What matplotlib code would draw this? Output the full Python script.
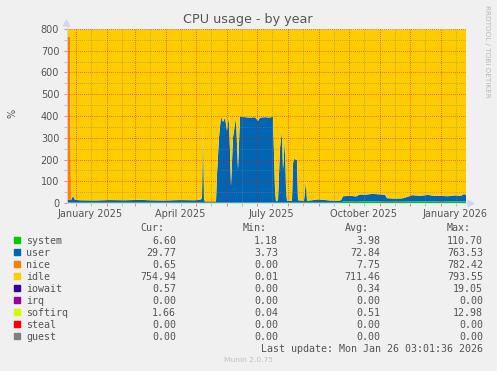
import matplotlib
matplotlib.use('Agg')
import matplotlib.pyplot as plt
import matplotlib.dates as mdates
import pandas as pd
from matplotlib.patches import Rectangle, Polygon
from matplotlib.lines import Line2D

W, H = 497, 371

# days since 2025-01-01
days = [-9, -7, -6, -5, -3, -1, 4, 19, 34, 49, 64,
        74, 89, 104, 119, 124, 126, 127, 128, 129, 134, 140,
        141, 143, 145, 147, 149, 151, 153, 155, 157, 158, 160,
        162, 164, 169, 174, 179, 182, 184, 189, 194, 197, 199,
        200, 202, 204, 206, 207, 209, 210, 211, 216, 217, 218,
        221, 222, 228, 230, 231, 236, 242, 247, 254, 262, 265,
        267, 274, 280, 284, 290, 296, 302, 309, 311, 319, 326,
        332, 336, 344, 352, 359, 364, 372, 379, 385, 388, 390]

system = [2.5, 2.5, 2.5, 2.5, 2.5, 2.5, 2.5, 2.5, 2.5, 2.5, 2.5,
          2.5, 2.5, 2.5, 2.5, 2.5, 2.5, 2.5, 2.5, 2.5, 2.5, 2.5,
          2.5, 2.5, 2.5, 2.5, 2.5, 2.5, 2.5, 2.5, 2.5, 2.5, 2.5,
          2.5, 2.5, 2.5, 2.5, 2.5, 2.5, 2.5, 2.5, 2.5, 2.5, 2.5,
          2.5, 2.5, 2.5, 2.5, 2.5, 2.5, 2.5, 2.5, 2.5, 2.5, 2.5,
          2.5, 2.5, 2.5, 2.5, 2.5, 2.5, 2.5, 2.5, 2.5, 2.5, 2.5,
          7, 7, 6, 7, 8, 7, 7, 6, 6, 6, 6,
          7, 7, 7, 7, 7, 6, 7, 7, 7, 7, 7]

user = [12, 12, 12, 10, 30, 12, 10, 9, 11, 10, 12,
        10, 9, 11, 10, 12, 20, 350, 15, 3, 2, 3,
        130, 300, 395, 370, 390, 330, 395, 75, 300, 330, 390,
        150, 395, 392, 390, 392, 375, 390, 392, 390, 395, 60,
        5, 10, 250, 330, 150, 290, 60, 8, 8, 180, 200,
        195, 10, 8, 100, 8, 10, 14, 12, 9, 8, 10,
        24, 26, 24, 32, 30, 35, 33, 32, 16, 14, 15,
        22, 29, 26, 30, 25, 27, 24, 28, 26, 34, 30]

nice = [750, 750, 750, 0.5, 0.5, 0.5, 0.5, 0.5, 0.5, 0.5, 0.5,
        0.5, 0.5, 0.5, 0.5, 0.5, 0.5, 0.5, 0.5, 4, 4, 4,
        0.5, 0.5, 0.5, 0.5, 0.5, 0.5, 0.5, 0.5, 0.5, 0.5, 0.5,
        0.5, 0.5, 0.5, 0.5, 0.5, 0.5, 0.5, 0.5, 0.5, 0.5, 0.5,
        0.5, 0.5, 0.5, 0.5, 0.5, 0.5, 0.5, 0.5, 0.5, 0.5, 0.5,
        0.5, 0.5, 0.5, 0.5, 0.5, 0.5, 0.5, 0.5, 0.5, 0.5, 0.5,
        0.5, 0.5, 0.5, 0.5, 0.5, 0.5, 0.5, 0.5, 0.5, 0.5, 0.5,
        0.5, 0.5, 0.5, 0.5, 0.5, 0.5, 0.5, 0.5, 0.5, 0.5, 0.5]

idle = [34, 34, 34, 785, 765, 783, 785, 786, 784, 785, 783,
        785, 786, 784, 785, 783, 775, 445, 780, 789, 790, 789,
        665, 495, 400, 425, 405, 465, 400, 720, 495, 465, 405,
        645, 400, 403, 405, 403, 420, 405, 403, 405, 400, 735,
        790, 785, 545, 465, 645, 505, 735, 787, 787, 615, 595,
        600, 785, 787, 695, 787, 785, 781, 783, 786, 787, 785,
        766, 764, 766, 758, 760, 755, 757, 758, 774, 776, 775,
        768, 761, 764, 760, 765, 763, 766, 762, 764, 756, 760]

iowait = [0.3, 0.3, 0.3, 0.3, 0.3, 0.3, 0.3, 0.3, 0.3, 0.3, 0.3,
          0.3, 0.3, 0.3, 0.3, 0.3, 0.3, 0.3, 0.3, 0.3, 0.3, 0.3,
          0.3, 0.3, 0.3, 0.3, 0.3, 0.3, 0.3, 0.3, 0.3, 0.3, 0.3,
          0.3, 0.3, 0.3, 0.3, 0.3, 0.3, 0.3, 0.3, 0.3, 0.3, 0.3,
          0.3, 0.3, 0.3, 0.3, 0.3, 0.3, 0.3, 0.3, 0.3, 0.3, 0.3,
          0.3, 0.3, 0.3, 0.3, 0.3, 0.3, 0.3, 0.3, 0.3, 0.3, 0.3,
          0.3, 0.3, 0.3, 0.3, 0.3, 0.3, 0.3, 0.3, 0.3, 0.3, 0.3,
          0.3, 0.3, 0.3, 0.3, 0.3, 0.3, 0.3, 0.3, 0.3, 0.3, 0.3]

softirq = [0.3, 0.3, 0.3, 0.3, 0.3, 0.3, 0.3, 0.3, 0.3, 0.3, 0.3,
           0.3, 0.3, 0.3, 0.3, 0.3, 0.3, 0.3, 0.3, 0.3, 0.3, 0.3,
           0.3, 0.3, 0.3, 0.3, 0.3, 0.3, 0.3, 0.3, 0.3, 0.3, 0.3,
           0.3, 0.3, 0.3, 0.3, 0.3, 0.3, 0.3, 0.3, 0.3, 0.3, 0.3,
           0.3, 0.3, 0.3, 0.3, 0.3, 0.3, 0.3, 0.3, 0.3, 0.3, 0.3,
           0.3, 0.3, 0.3, 0.3, 0.3, 0.3, 0.3, 0.3, 0.3, 0.3, 0.3,
           1.6, 1.6, 1.6, 1.6, 1.6, 1.6, 1.6, 1.6, 1.6, 1.6, 1.6,
           1.6, 1.6, 1.6, 1.6, 1.6, 1.6, 1.6, 1.6, 1.6, 1.6, 1.6]

names = ['system', 'user', 'nice', 'idle', 'iowait', 'irq', 'softirq', 'steal', 'guest']
colors = ['#00cc00', '#0066b3', '#ff8000', '#ffcc00', '#330099', '#990099', '#ccff00', '#ff0000', '#808080']
cur = ['6.60', '29.77', '0.65', '754.94', '0.57', '0.00', '1.66', '0.00', '0.00']
mins = ['1.18', '3.73', '0.00', '0.01', '0.00', '0.00', '0.04', '0.00', '0.00']
avgs = ['3.98', '72.84', '7.75', '711.46', '0.34', '0.00', '0.51', '0.00', '0.00']
maxs = ['110.70', '763.53', '782.42', '793.55', '19.05', '0.00', '12.98', '0.00', '0.00']

xlabels = ['January 2025', 'April 2025', 'July 2025', 'October 2025', 'January 2026']
xlabel_pos = ['2025-01-15', '2025-04-15', '2025-07-15', '2025-10-15', '2026-01-15']

def fx(x):
    return x / W

def fy(y):
    return 1 - y / H

base = pd.Timestamp('2025-01-01')
dates = base + pd.to_timedelta(days, unit='D')

fig = plt.figure(figsize=(W / 100, H / 100), dpi=100, facecolor='#f0f0f0')
ax = fig.add_axes([fx(67), fy(203), 399 / W, 174 / H])
ax.set_facecolor('white')

ax.stackplot(dates, system, user, nice, idle, iowait, softirq,
             colors=[colors[0], colors[1], colors[2], colors[3], colors[4], colors[6]],
             linewidth=0)

ax.set_xlim(dates[0], dates[-1])
ax.set_ylim(0, 800)
ax.set_axisbelow(False)

ax.xaxis.set_major_locator(mdates.MonthLocator())
ax.xaxis.set_minor_locator(mdates.MonthLocator(bymonthday=16))
ax.xaxis.set_major_formatter(plt.NullFormatter())
ax.set_yticks(range(0, 801, 100))
ax.set_yticks(range(50, 800, 100), minor=True)

ax.grid(which='major', color=(1, 0, 0, 0.22), linestyle=(0, (1, 2)), linewidth=0.5)
ax.grid(which='minor', color=(0.5, 0.5, 0.5, 0.25), linestyle=(0, (1, 2)), linewidth=0.5)
ax.tick_params(which='major', length=2, width=0.7, color=(1, 0, 0, 0.5),
               labelsize=7, labelcolor='#555555', pad=3.6)
ax.tick_params(which='minor', length=2, width=0.7, color=(0.5, 0.5, 0.5, 0.45))
for s in ax.spines.values():
    s.set_visible(False)

for lab, pos in zip(xlabels, xlabel_pos):
    ax.text(pd.Timestamp(pos), (203 - 217) / 174, lab, transform=ax.get_xaxis_transform(),
            ha='center', va='baseline', fontsize=7, color='#555555')

# axis lines with arrows
arrow_c = '#cfd6f8'
fig.add_artist(Line2D([fx(66.5), fx(66.5)], [fy(203), fy(24)], color=arrow_c, lw=0.6))
fig.add_artist(Line2D([fx(66.5), fx(469)], [fy(203.5), fy(203.5)], color=arrow_c, lw=0.6))
fig.add_artist(Polygon([[fx(63.5), fy(26)], [fx(69.5), fy(26)], [fx(66.5), fy(20)]],
                       closed=True, color=arrow_c, transform=fig.transFigure))
fig.add_artist(Polygon([[fx(468), fy(200.5)], [fx(468), fy(206.5)], [fx(474), fy(203.5)]],
                       closed=True, color=arrow_c, transform=fig.transFigure))

fig.text(fx(248), fy(19), 'CPU usage - by year', ha='center', va='center',
         fontsize=9.2, color='#555555')
fig.text(fx(12), fy(113), '%', ha='center', va='center', rotation=90,
         fontsize=7, color='#555555')
fig.text(fx(487), fy(5), 'RRDTOOL / TOBI OETIKER', ha='center', va='top', rotation=-90,
         fontsize=5.2, color='#b8b8b8')

# legend table
mono = 'DejaVu Sans Mono'
tc = '#555555'
for head, hx in zip(['Cur:', 'Min:', 'Avg:', 'Max:'], [140, 243, 345, 447]):
    fig.text(fx(hx), fy(231), head, ha='left', va='baseline', family=mono, fontsize=7.2, color=tc)
for i in range(len(names)):
    yb = 243.5 + 12 * i
    fig.add_artist(Rectangle((fx(14), fy(243 + 12 * i)), 6 / W, 6 / H,
                             color=colors[i], transform=fig.transFigure))
    fig.text(fx(26), fy(yb), names[i], ha='left', va='baseline', family=mono, fontsize=7.2, color=tc)
    for val, rx in zip([cur[i], mins[i], avgs[i], maxs[i]], [176, 278, 380, 483]):
        fig.text(fx(rx), fy(yb), val, ha='right', va='baseline', family=mono, fontsize=7.2, color=tc)

fig.text(fx(483), fy(351.5), 'Last update: Mon Jan 26 03:01:36 2026', ha='right', va='baseline',
         family=mono, fontsize=7.2, color=tc)
fig.text(fx(248), fy(360), 'Munin 2.0.75', ha='center', va='center', fontsize=5.4, color='#c0c0c0')

fig.savefig('out.png', dpi=100, facecolor=fig.get_facecolor())
